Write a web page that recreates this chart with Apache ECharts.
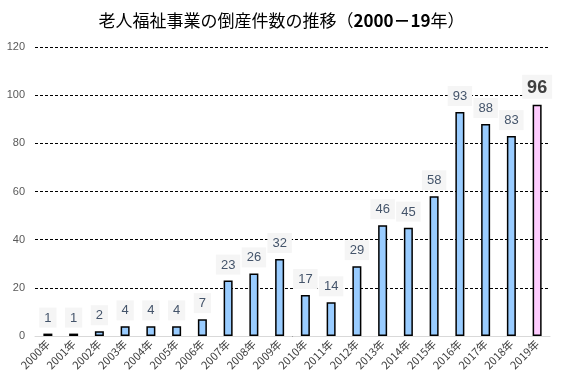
<!DOCTYPE html>
<html><head><meta charset="utf-8">
<script src="https://cdn.jsdelivr.net/npm/echarts@6/dist/echarts.min.js"></script>
<style>html,body{margin:0;padding:0;background:#fff}#c{width:563px;height:386px}</style>
</head><body><div id="c"></div>
<script>
const categories = ['2000年','2001年','2002年','2003年','2004年','2005年','2006年','2007年','2008年','2009年','2010年','2011年','2012年','2013年','2014年','2015年','2016年','2017年','2018年','2019年'];
const values = [1,1,2,4,4,4,7,23,26,32,17,14,29,46,45,58,93,88,83,96];
const yTicks = {min:0, max:120, interval:20};

const font = '"Noto Sans CJK JP", "Noto Sans", sans-serif';
const chart = echarts.init(document.getElementById('c'), null, {renderer:'canvas'});
const last = values.length - 1;
const data = values.map((v,i)=> i===last ? {
  value:v,
  itemStyle:{color:'#ffccff'},
  label:{fontSize:18, fontWeight:'bold', color:'#404040', padding:[4,5,2,5]}
} : v);
chart.setOption({
  animation:false,
  title:{
    text:'{n|老人福祉事業の倒産件数の推移（}{b|2000－19}{n|年）}',
    left:'center', top:7,
    textStyle:{fontWeight:'normal', rich:{
      n:{fontSize:17, fontFamily:font, color:'#000', fontWeight:'normal'},
      b:{fontSize:17, fontFamily:font, color:'#000', fontWeight:'bold'}
    }}
  },
  grid:{left:35, right:13, top:47, bottom:50},
  xAxis:{
    type:'category', data:categories,
    axisLine:{lineStyle:{color:'#d9d9d9', width:1}},
    axisTick:{show:false},
    axisLabel:{rotate:45, interval:0, fontSize:11, color:'#404040', fontFamily:font, margin:6}
  },
  yAxis:{
    type:'value', min:yTicks.min, max:yTicks.max, interval:yTicks.interval,
    axisLine:{show:false}, axisTick:{show:false},
    axisLabel:{fontSize:11, color:'#595959', fontFamily:'"Liberation Sans", sans-serif', margin:10},
    splitLine:{lineStyle:{color:'#000', type:[3,2], width:1}}
  },
  series:[{
    type:'bar', data:data, barWidth:9,
    itemStyle:{color:'#99ccff', borderColor:'#000', borderWidth:1.5},
    label:{show:true, position:'top', distance:6, fontSize:13, color:'#44546a',
      fontFamily:'"Liberation Sans", sans-serif',
      backgroundColor:'#f5f5f5', padding:[4,5,3,5]}
  }]
});
</script></body></html>
